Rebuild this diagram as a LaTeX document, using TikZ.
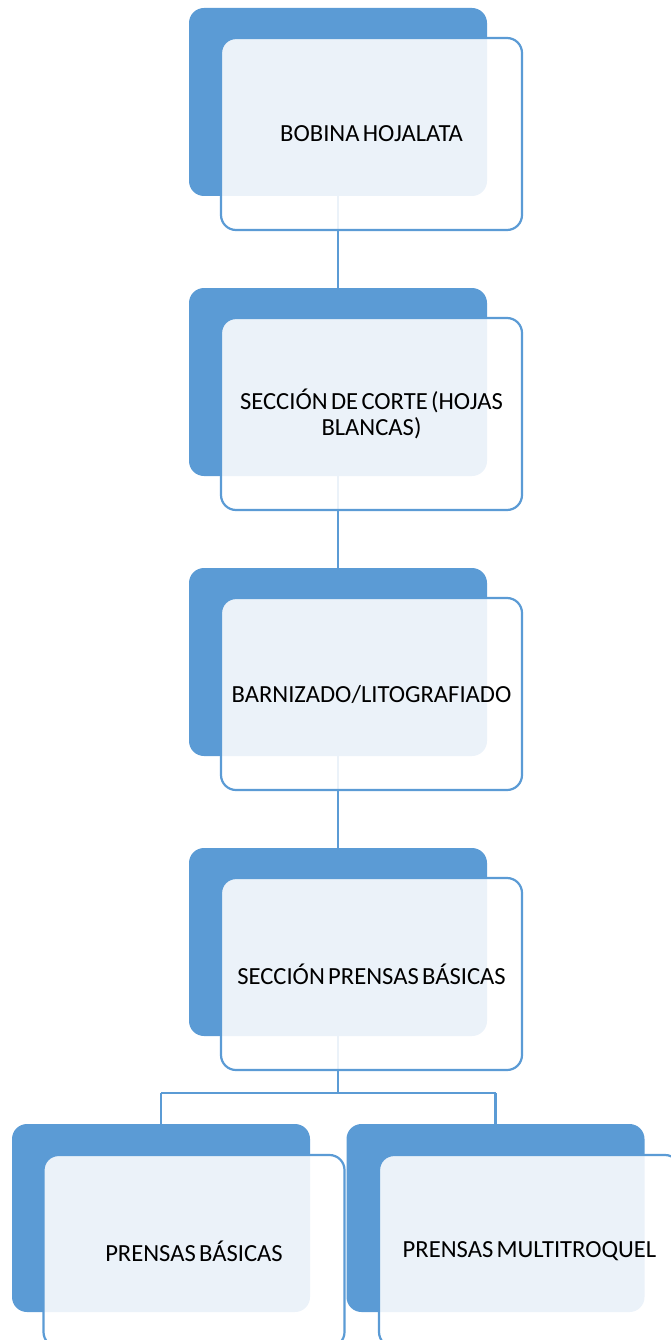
\documentclass[tikz,border=0pt]{standalone}
\usepackage{fontspec}
\setmainfont{Carlito}[WordSpace=0.6]
\definecolor{accent}{HTML}{5B9BD5}
\begin{document}
\begin{tikzpicture}[x=1pt,y=-1pt,
  back/.style={rectangle, rounded corners=15pt, fill=accent, inner sep=0pt,
    minimum width=298pt, minimum height=188pt},
  front/.style={rectangle, rounded corners=15pt, fill=white, fill opacity=0.88,
    text opacity=1, draw=accent, draw opacity=1, line width=2.2pt, inner sep=0pt,
    minimum width=301pt, minimum height=192pt, align=center,
    font=\fontsize{24.6pt}{26.5pt}\selectfont},
  link/.style={draw=accent, line width=2.8pt}]
\useasboundingbox (0,0) rectangle (671,1340);
\clip (0,0) rectangle (671,1340);

% rear tabs of each step
\node[back] (d1) at (338,102) {};
\node[back] (d2) at (338,382) {};
\node[back] (d3) at (338,662) {};
\node[back] (d4) at (338,942) {};
\node[back] (d5) at (161,1218) {};
\node[back] (d6) at (495.5,1218) {};

% connectors between the steps
\coordinate (fork) at (338,1093);
\draw[link] (d1.south) -- (d2.north);
\draw[link] (d2.south) -- (d3.north);
\draw[link] (d3.south) -- (d4.north);
\draw[link] (d4.south) -- (fork);
\draw[link] (fork -| d5.north) -- (fork -| d6.north);
\draw[link] (fork -| d5.north) -- (d5.north);
\draw[link] (fork -| d6.north) -- (d6.north);

% front cards with the labels
\node[front] (l1) at (371.5,134) {BOBINA HOJALATA};
\node[front] (l2) at (371.5,414) {SECCIÓN DE CORTE (HOJAS\\BLANCAS)};
\node[front] (l3) at (371.5,694) {BARNIZADO/LITOGRAFIADO};
\node[front] (l4) at (371.5,974) {SECCIÓN PRENSAS BÁSICAS};
\node[front] (l5) at (194,1251) {PRENSAS BÁSICAS};
\node[front] (l6) at (529.5,1251) {PRENSAS MULTITROQUEL};
\end{tikzpicture}
\end{document}
